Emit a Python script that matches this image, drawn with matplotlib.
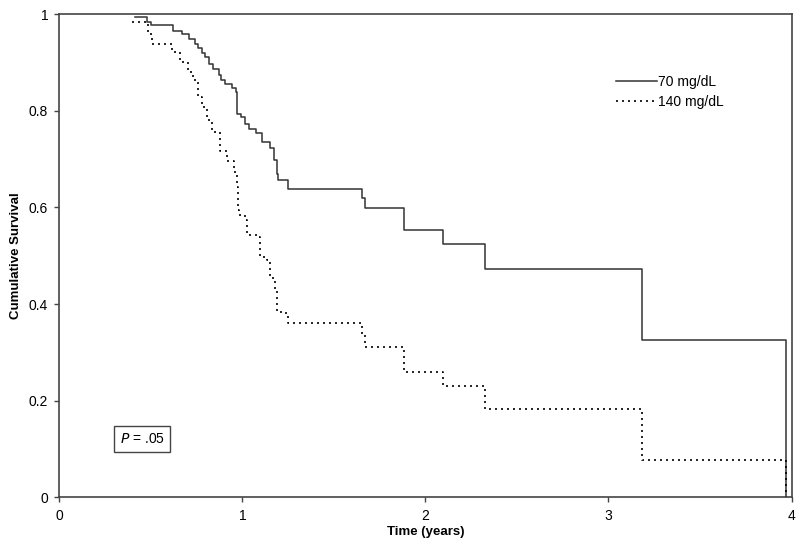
import matplotlib
matplotlib.use("Agg")
import matplotlib.pyplot as plt

plt.rcParams['font.family'] = ['Liberation Sans', 'DejaVu Sans']

# 70 mg/dL group (solid)
t70 = [0.411, 0.481, 0.501, 0.620, 0.669, 0.709, 0.739, 0.759, 0.778, 0.798,
       0.818, 0.838, 0.873, 0.883, 0.907, 0.942, 0.967, 0.973, 0.992, 1.016,
       1.036, 1.076, 1.106, 1.151, 1.173, 1.188, 1.197, 1.252, 1.652, 1.672,
       1.885, 2.097, 2.326, 3.183, 3.969]
s70 = [0.993, 0.984, 0.977, 0.965, 0.959, 0.948, 0.939, 0.929, 0.920, 0.911,
       0.897, 0.886, 0.874, 0.864, 0.855, 0.846, 0.839, 0.794, 0.787, 0.773,
       0.763, 0.753, 0.736, 0.722, 0.698, 0.670, 0.656, 0.638, 0.619, 0.598,
       0.553, 0.524, 0.472, 0.325, 0.0]

# 140 mg/dL group (dotted)
t140 = [0.396, 0.483, 0.505, 0.614, 0.659, 0.705, 0.729, 0.760, 0.778, 0.808,
        0.833, 0.878, 0.917, 0.952, 0.969, 0.975, 0.984, 1.014, 1.024, 1.082,
        1.097, 1.133, 1.151, 1.179, 1.191, 1.224, 1.252, 1.652, 1.671, 1.885,
        2.095, 2.323, 3.183, 3.969]
s140 = [0.983, 0.959, 0.939, 0.922, 0.901, 0.881, 0.864, 0.828, 0.808, 0.780,
        0.756, 0.716, 0.696, 0.674, 0.642, 0.595, 0.585, 0.574, 0.543, 0.539,
        0.498, 0.491, 0.454, 0.429, 0.384, 0.381, 0.360, 0.337, 0.312, 0.260,
        0.230, 0.183, 0.077, 0.0]

xticks = [0, 1, 2, 3, 4]
yticks = [0, 0.2, 0.4, 0.6, 0.8, 1]
yticklabels = ['0', '0.2', '0.4', '0.6', '0.8', '1']

fig = plt.figure(figsize=(8, 5.54), dpi=100)
ax = fig.add_axes([0.0741, 0.102, 0.9153, 0.8727])

ax.step(t70, s70, where='post', color='#333333', lw=1.1, label='70 mg/dL')
ax.step(t140, s140, where='post', color='black', lw=1.2,
        linestyle=(0, (1.2, 2.4)), label='140 mg/dL')

ax.set_xlim(0, 4)
ax.set_ylim(0, 1)
ax.set_xticks(xticks)
ax.set_yticks(yticks)
ax.set_yticklabels(yticklabels)
ax.tick_params(direction='out', length=3.5, width=1, labelsize=10,
               color='#444444', pad=4.5)
for sp in ax.spines.values():
    sp.set_color('#444444')
    sp.set_linewidth(1.2)

ax.set_xlabel('Time (years)', fontsize=9.5, fontweight='bold')
ax.set_ylabel('Cumulative Survival', fontsize=9.5, fontweight='bold')
ax.xaxis.set_label_coords(0.5, -0.058)
ax.yaxis.set_label_coords(-0.051, 0.5)

leg = ax.legend(loc='upper left', bbox_to_anchor=(0.760, 0.874), frameon=False,
                fontsize=10, handlelength=2.95, handletextpad=0.1,
                labelspacing=0.45, borderpad=0, borderaxespad=0)

ax.text(0.113, 0.121, r'$\it{P}$ = .05', fontsize=10, ha='center', va='center',
        transform=ax.transAxes,
        bbox=dict(boxstyle='square,pad=0.42', fc='white', ec='#444444', lw=1))

fig.savefig('out.png', dpi=100)
